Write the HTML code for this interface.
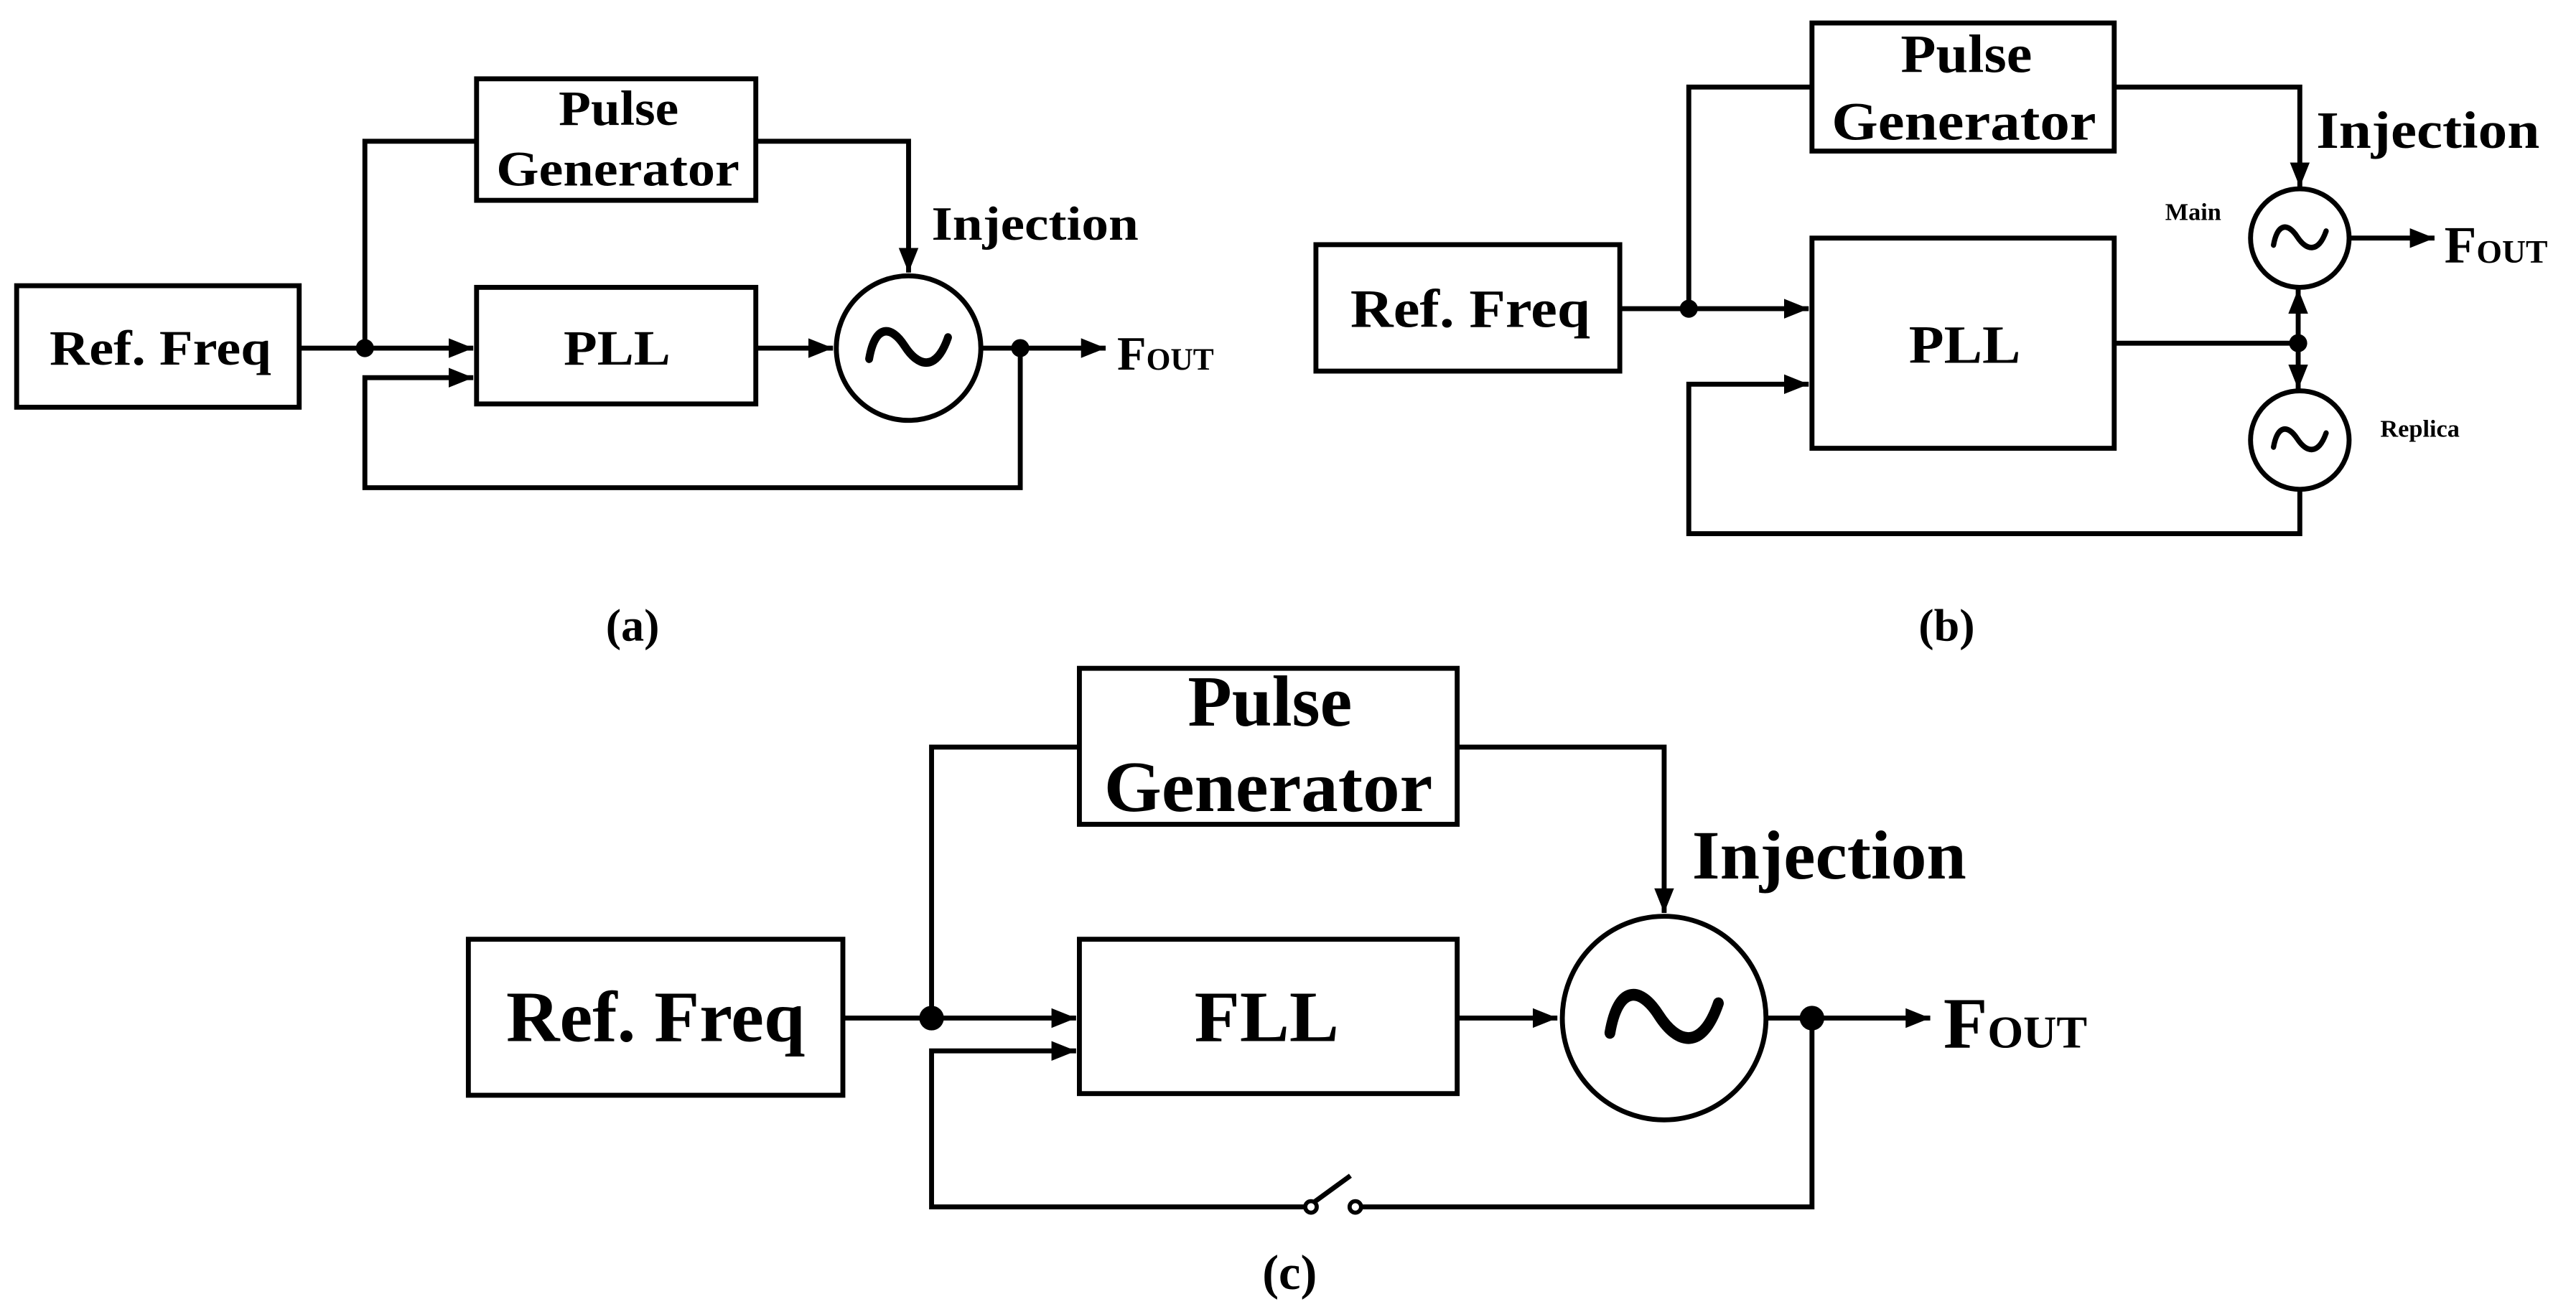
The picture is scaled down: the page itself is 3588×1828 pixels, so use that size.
<!DOCTYPE html>
<html><head><style>
html,body{margin:0;padding:0;background:#fff;}
svg{display:block;}
text{font-family:"Liberation Serif",serif;font-weight:bold;fill:#000;}
</style></head><body>
<svg width="3588" height="1828" viewBox="0 0 1568 799" xmlns="http://www.w3.org/2000/svg">
<defs>
<marker id="ar" viewBox="0 0 10 10" refX="10" refY="5" markerWidth="5" markerHeight="5" orient="auto" markerUnits="strokeWidth"><path d="M0,1 L10,5 L0,9 z" fill="#000"/></marker>
<path id="tl" d="M-1,0.25 C-0.85,-0.55 -0.45,-0.55 -0.1,-0.05 C0.25,0.45 0.7,0.55 1,-0.25"/>
</defs>
<g fill="none" stroke="#000" stroke-width="3">
<!-- (a) -->
<rect x="10" y="174" width="172" height="74"/>
<rect x="290" y="48" width="170" height="74"/>
<rect x="290" y="175" width="170" height="71"/>
<circle cx="553" cy="212" r="44"/>
<line x1="182" y1="212" x2="288" y2="212" marker-end="url(#ar)"/>
<polyline points="222,212 222,86 290,86"/>
<polyline points="460,86 553,86 553,166" marker-end="url(#ar)"/>
<line x1="460" y1="212" x2="507" y2="212" marker-end="url(#ar)"/>
<line x1="597" y1="212" x2="673" y2="212" marker-end="url(#ar)"/>
<polyline points="621,212 621,297 222,297 222,230 288,230" marker-end="url(#ar)"/>
<!-- (b) -->
<rect x="801" y="149" width="185" height="77"/>
<rect x="1103" y="14" width="184" height="78"/>
<rect x="1103" y="145" width="184" height="128"/>
<circle cx="1400" cy="145" r="30"/>
<circle cx="1400" cy="268" r="30"/>
<line x1="986" y1="188" x2="1101" y2="188" marker-end="url(#ar)"/>
<polyline points="1028,188 1028,53 1103,53"/>
<polyline points="1287,53 1400,53 1400,114" marker-end="url(#ar)"/>
<line x1="1430" y1="145" x2="1482" y2="145" marker-end="url(#ar)"/>
<line x1="1287" y1="209" x2="1398" y2="209"/>
<line x1="1399" y1="209" x2="1399" y2="176" marker-end="url(#ar)"/>
<line x1="1399" y1="209" x2="1399" y2="237" marker-end="url(#ar)"/>
<polyline points="1400,298 1400,325 1028,325 1028,234 1101,234" marker-end="url(#ar)"/>
<!-- (c) -->
<rect x="285" y="572" width="228" height="95"/>
<rect x="657" y="407" width="230" height="95"/>
<rect x="657" y="572" width="230" height="94"/>
<circle cx="1013" cy="620" r="62"/>
<line x1="513" y1="620" x2="655" y2="620" marker-end="url(#ar)"/>
<polyline points="567,620 567,455 657,455"/>
<polyline points="887,455 1013,455 1013,556" marker-end="url(#ar)"/>
<line x1="887" y1="620" x2="948" y2="620" marker-end="url(#ar)"/>
<line x1="1075" y1="620" x2="1175" y2="620" marker-end="url(#ar)"/>
<polyline points="1103,620 1103,735 829,735"/>
<polyline points="794,735 567,735 567,640 655,640" marker-end="url(#ar)"/>
<circle cx="798" cy="735" r="3.5" stroke-width="2.5"/>
<circle cx="825" cy="735" r="3.5" stroke-width="2.5"/>
<line x1="800" y1="732" x2="822" y2="716"/>
</g>
<!-- tildes -->
<g fill="none" stroke="#000" stroke-linecap="round">
<use href="#tl" transform="translate(553,212) scale(24,26)" stroke-width="0.2"/>
<use href="#tl" transform="translate(1400,145) scale(16,17)" stroke-width="0.2"/>
<use href="#tl" transform="translate(1400,268) scale(16,17)" stroke-width="0.2"/>
<use href="#tl" transform="translate(1013,620) scale(33,36)" stroke-width="0.2"/>
</g>
<g fill="#000">
<circle cx="222" cy="212" r="5.5"/><circle cx="621" cy="212" r="5.5"/>
<circle cx="1028" cy="188" r="5.5"/><circle cx="1399" cy="209" r="5.5"/>
<circle cx="567" cy="620" r="7.5"/><circle cx="1103" cy="620" r="7.5"/>
</g>
<!-- text (a) -->
<text x="30" y="222" font-size="30" textLength="135" lengthAdjust="spacingAndGlyphs">Ref. Freq</text>
<text x="340" y="76" font-size="30" textLength="73" lengthAdjust="spacingAndGlyphs">Pulse</text>
<text x="302" y="113" font-size="30" textLength="148" lengthAdjust="spacingAndGlyphs">Generator</text>
<text x="343" y="222" font-size="30" textLength="65" lengthAdjust="spacingAndGlyphs">PLL</text>
<text x="567" y="146" font-size="29" textLength="126" lengthAdjust="spacingAndGlyphs">Injection</text>
<text x="680" y="225" font-size="29">F<tspan font-size="19">OUT</tspan></text>
<text x="385" y="390" font-size="28" text-anchor="middle" font-weight="normal">(<tspan font-weight="bold">a</tspan>)</text>
<!-- text (b) -->
<text x="822" y="199" font-size="33" textLength="146" lengthAdjust="spacingAndGlyphs">Ref. Freq</text>
<text x="1157" y="44" font-size="33" textLength="80" lengthAdjust="spacingAndGlyphs">Pulse</text>
<text x="1115" y="85" font-size="33" textLength="161" lengthAdjust="spacingAndGlyphs">Generator</text>
<text x="1162" y="221" font-size="33" textLength="68" lengthAdjust="spacingAndGlyphs">PLL</text>
<text x="1410" y="90" font-size="32" textLength="136" lengthAdjust="spacingAndGlyphs">Injection</text>
<text x="1488" y="160" font-size="32">F<tspan font-size="20">OUT</tspan></text>
<text x="1318" y="134" font-size="15">Main</text>
<text x="1449" y="266" font-size="15">Replica</text>
<text x="1185" y="390" font-size="28" text-anchor="middle" font-weight="normal">(<tspan font-weight="bold">b</tspan>)</text>
<!-- text (c) -->
<text x="308" y="634" font-size="44" textLength="182" lengthAdjust="spacingAndGlyphs">Ref. Freq</text>
<text x="723" y="442" font-size="44" textLength="100" lengthAdjust="spacingAndGlyphs">Pulse</text>
<text x="672" y="494" font-size="44" textLength="200" lengthAdjust="spacingAndGlyphs">Generator</text>
<text x="727" y="634" font-size="44" textLength="88" lengthAdjust="spacingAndGlyphs">FLL</text>
<text x="1030" y="535" font-size="42" textLength="167" lengthAdjust="spacingAndGlyphs">Injection</text>
<text x="1183" y="638" font-size="44">F<tspan font-size="28">OUT</tspan></text>
<text x="785" y="785" font-size="30" text-anchor="middle" font-weight="normal">(<tspan font-weight="bold">c</tspan>)</text>
</svg>
</body></html>
